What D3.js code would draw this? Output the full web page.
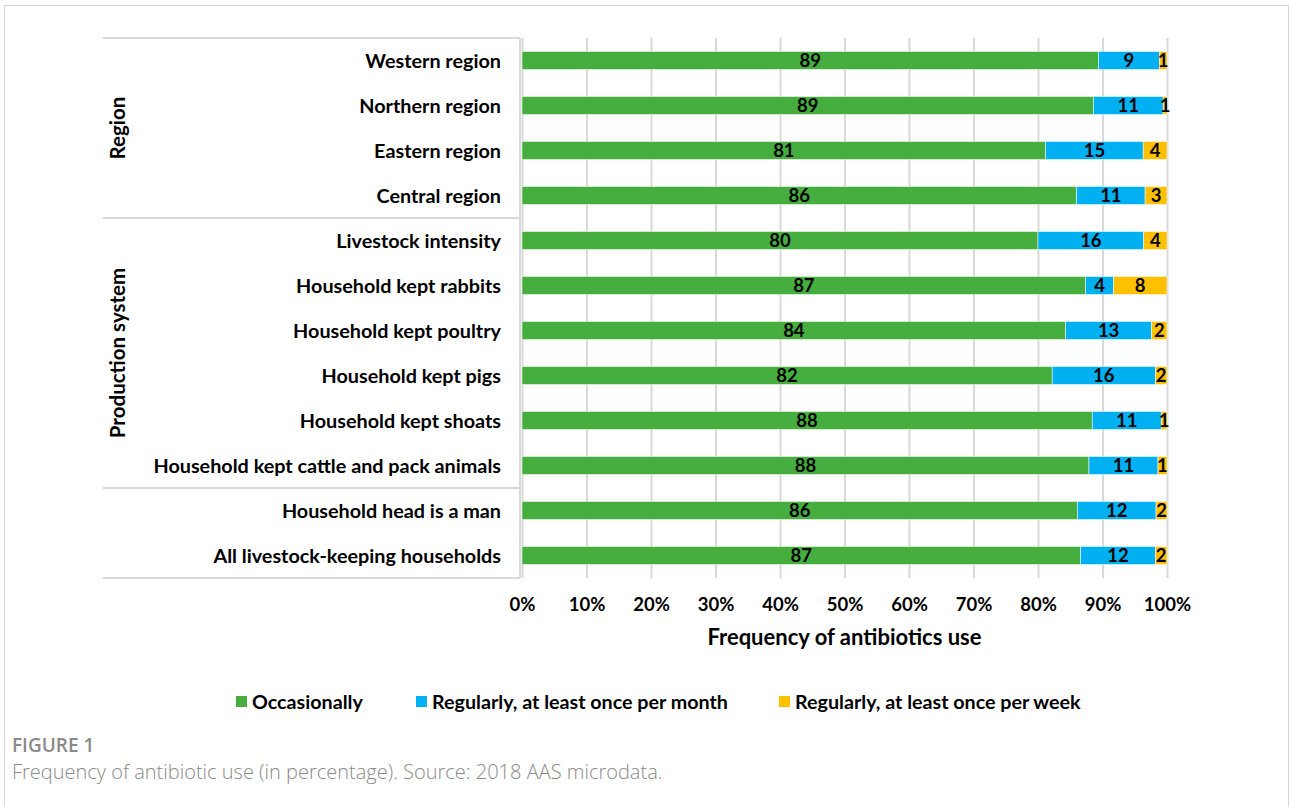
<!DOCTYPE html>
<html>
<head>
<meta charset="utf-8">
<script src="https://cdn.jsdelivr.net/npm/d3@7"></script>
<style>
  html, body { margin: 0; padding: 0; background: #fff; }
  svg { display: block; }
  text { font-family: Lato, "Open Sans", sans-serif; }
</style>
</head>
<body>
<svg id="chart" width="1290" height="807"></svg>
<script>
// ---- Data (top row to bottom row) ----
const categories = [
  "Western region",
  "Northern region",
  "Eastern region",
  "Central region",
  "Livestock intensity",
  "Household kept rabbits",
  "Household kept poultry",
  "Household kept pigs",
  "Household kept shoats",
  "Household kept cattle and pack animals",
  "Household head is a man",
  "All livestock-keeping households"
];
const occasionally = [89.4, 88.6, 81.2, 86.0, 80.0, 87.4, 84.3, 82.2, 88.4, 87.9, 86.1, 86.6];
const monthly      = [ 9.4, 10.8, 15.1, 10.6, 16.4,  4.3, 13.3, 16.0, 10.7, 10.7, 12.2, 11.6];
const weekly       = [ 1.2,  0.6,  3.7,  3.4,  3.6,  8.3,  2.4,  1.8,  0.9,  1.4,  1.7,  1.8];
const seriesNames  = ["Occasionally", "Regularly, at least once per month", "Regularly, at least once per week"];
const seriesColors = ["#46ae3e", "#00b0f0", "#ffc000"];
const groupNames   = ["Region", "Production system", ""];
const groupSizes   = [4, 6, 2];
const tickValues   = [0, 10, 20, 30, 40, 50, 60, 70, 80, 90, 100];
const xTitle       = "Frequency of antibiotics use";
const figLabel     = "FIGURE 1";
const figCaption   = "Frequency of antibiotic use (in percentage). Source: 2018 AAS microdata.";

// ---- Layout ----
const svg = d3.select("#chart");
const plotTop = 38, plotBottom = 578;
const xLeft = 522, xRight = 1167;
const panelLeft = 103, panelRight = 520;
const gridColor = "#d9d9d9";

// outer frame
svg.append("rect")
  .attr("x", 4.5).attr("y", 5.5).attr("width", 1284).attr("height", 840)
  .attr("fill", "none").attr("stroke", "#d6d6d6").attr("stroke-width", 1);

const x = d3.scaleLinear().domain([0, 100]).range([xLeft, xRight]);
const y = d3.scaleBand().domain(categories).range([plotTop, plotBottom])
  .paddingInner(0.6).paddingOuter(0.3);

// gridlines + tick labels
const axis = svg.append("g")
  .attr("transform", `translate(0,${plotBottom})`)
  .call(d3.axisBottom(x).tickValues(tickValues).tickSizeInner(-(plotBottom - plotTop)).tickSizeOuter(0)
    .tickPadding(20).tickFormat(d => d + "%"));
axis.select(".domain").remove();
axis.selectAll(".tick line").attr("stroke", gridColor).attr("stroke-width", 2);
axis.selectAll(".tick text")
  .attr("fill", "#000").attr("font-size", 18.5).attr("font-weight", 700)
  .style("font-family", "Lato, sans-serif");

// label panel lines
const panel = svg.append("g").attr("stroke", gridColor).attr("stroke-width", 2).attr("fill", "none");
let boundaries = [0];
groupSizes.reduce((acc, n) => { boundaries.push(acc + n); return acc + n; }, 0);
const step = y.step();
boundaries.forEach(b => {
  const yy = plotTop + b * step;
  panel.append("line").attr("x1", panelLeft).attr("x2", panelRight).attr("y1", yy).attr("y2", yy);
});
panel.append("line").attr("x1", panelRight).attr("x2", panelRight).attr("y1", plotTop).attr("y2", plotBottom);

// group labels (rotated)
groupNames.forEach((g, i) => {
  if (!g) return;
  const cy = plotTop + (boundaries[i] + boundaries[i + 1]) / 2 * step;
  svg.append("text")
    .attr("transform", `translate(125,${cy}) rotate(-90)`)
    .attr("text-anchor", "middle")
    .attr("font-size", 20.5).attr("font-weight", 700).attr("fill", "#000")
    .text(g);
});

// category labels
svg.append("g").selectAll("text").data(categories).join("text")
  .attr("x", 501)
  .attr("y", d => y(d) + y.bandwidth() / 2)
  .attr("dy", "0.36em")
  .attr("text-anchor", "end")
  .attr("font-size", 19.8).attr("font-weight", 700).attr("fill", "#000")
  .text(d => d);

// stacked bars
const rows = categories.map((c, i) => ({ cat: c, s0: occasionally[i], s1: monthly[i], s2: weekly[i] }));
const stack = d3.stack().keys(["s0", "s1", "s2"]);
const layers = stack(rows);

const layerG = svg.append("g").selectAll("g").data(layers).join("g")
  .attr("fill", (d, i) => seriesColors[i]);
layerG.selectAll("rect").data(d => d).join("rect")
  .attr("x", d => x(d[0]))
  .attr("y", d => y(d.data.cat))
  .attr("width", d => x(d[1]) - x(d[0]))
  .attr("height", y.bandwidth())
  .attr("stroke", "#fff").attr("stroke-width", 0.5);

// data labels
const labelG = svg.append("g");
layers.forEach(layer => {
  labelG.append("g").selectAll("text").data(layer).join("text")
    .attr("x", d => (x(d[0]) + x(d[1])) / 2)
    .attr("y", d => y(d.data.cat) + y.bandwidth() / 2)
    .attr("dy", "0.36em")
    .attr("text-anchor", "middle")
    .attr("font-size", 18.5).attr("font-weight", 700).attr("fill", "#000")
    .text(d => Math.round(d[1] - d[0]));
});

// x title
svg.append("text")
  .attr("x", (xLeft + xRight) / 2).attr("y", 645)
  .attr("text-anchor", "middle")
  .attr("font-size", 22).attr("font-weight", 700).attr("fill", "#000")
  .text(xTitle);

// legend
const legendX = [236, 416, 779];
const legend = svg.append("g");
seriesNames.forEach((n, i) => {
  legend.append("rect").attr("x", legendX[i]).attr("y", 696).attr("width", 11).attr("height", 11)
    .attr("fill", seriesColors[i]);
  legend.append("text").attr("x", legendX[i] + 16).attr("y", 701.5).attr("dy", "0.36em")
    .attr("font-size", 19.7).attr("font-weight", 700).attr("fill", "#000").text(n);
});

// caption
svg.append("text").attr("x", 12).attr("y", 752)
  .attr("font-size", 19).attr("font-weight", 600).attr("fill", "#8a8a8a")
  .style("font-family", "'Open Sans', sans-serif")
  .text(figLabel);
svg.append("text").attr("x", 12).attr("y", 779)
  .attr("font-size", 20).attr("font-weight", 300).attr("fill", "#8a8a8a")
  .style("font-family", "'Open Sans', sans-serif")
  .text(figCaption);
</script>
</body>
</html>
